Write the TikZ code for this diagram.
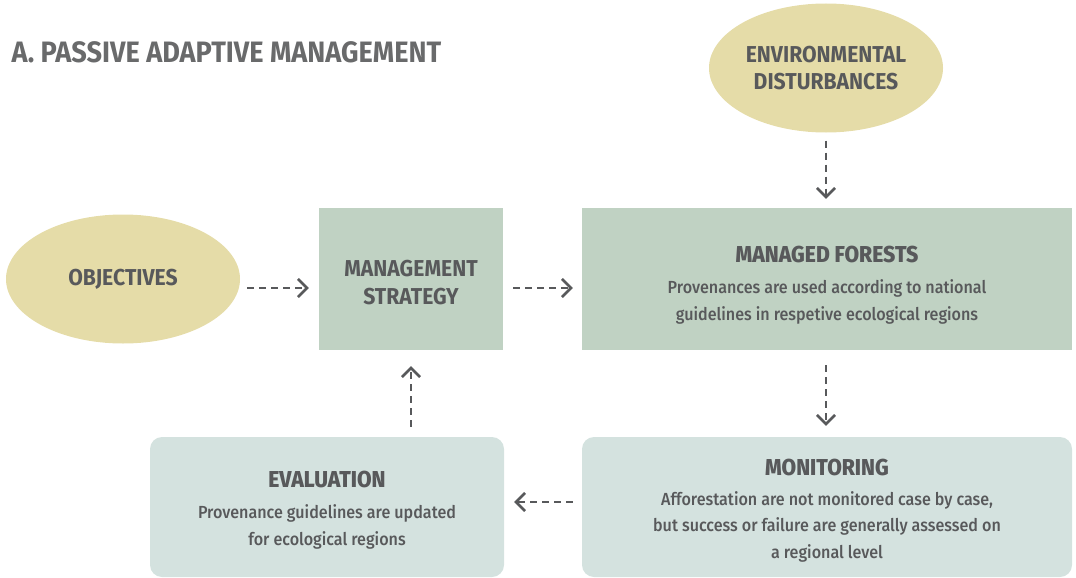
\documentclass[tikz,border=0pt]{standalone}
\usepackage{fontspec}
\setmainfont{Fira Sans}[FakeStretch=0.92]
\newfontfamily\mediumface{Fira Sans Medium}[FakeStretch=0.92]
\usetikzlibrary{shapes.geometric,arrows.meta}

\definecolor{textgrey}{HTML}{58595B}
\definecolor{sand}{HTML}{E5DCA8}
\definecolor{sage}{HTML}{C0D2C3}
\definecolor{mist}{HTML}{D4E2DF}

\newcommand{\headfont}{\fontsize{23}{28}\selectfont\bfseries}
\newcommand{\bodyfont}{\mediumface\fontsize{17.5}{26.5}\selectfont}

\begin{document}
\begin{tikzpicture}[
		x=1pt,y=-1pt,
		every node/.style={
			text=textgrey,
			align=center,
		},
		goal/.style={
			ellipse,
			fill=sand,
			inner sep=0pt,
			minimum width=234pt,
			minimum height=129pt,
			font=\fontsize{23}{27}\selectfont\bfseries
		},
		box/.style={
			rectangle,
			fill=sage,
			inner sep=0pt,
			font=\bodyfont
		},
		roundbox/.style={
			rectangle,
			rounded corners=12pt,
			fill=mist,
			inner sep=0pt,
			font=\bodyfont
		},
		flow/.style={
			draw=textgrey,
			line width=2.6pt,
			dash pattern=on 7pt off 5pt,
			-{Straight Barb[length=9pt,width=18pt,line width=2.6pt]}
		},
		>=latex
		]
		\useasboundingbox (0,0) rectangle (1076,578);
		% title
		\node[anchor=base west,font=\fontsize{29.5}{32}\selectfont\bfseries,text=textgrey!90] (title) at (8,63) {A. PASSIVE ADAPTIVE MANAGEMENT};
		% ellipses
		\node[goal] (env) at (826,68) {ENVIRONMENTAL\\DISTURBANCES};
		\node[goal] (obj) at (123,279) {OBJECTIVES};
		% boxes
		\node[box,minimum width=184pt,minimum height=142pt,font=\headfont] (strategy) at (411,279) {\rule{0pt}{24pt}MANAGEMENT\\STRATEGY};
		\node[box,minimum width=490pt,minimum height=142pt] (forests) at (827,279)
			{{\headfont\rule{0pt}{28pt}MANAGED FORESTS}\\[5pt]
			Provenances are used according to national\\guidelines in respetive ecological regions};
		\node[roundbox,minimum width=490pt,minimum height=140pt] (monitor) at (827,507)
			{{\headfont\rule{0pt}{24pt}MONITORING}\\[3pt]
			Afforestation are not monitored case by case,\\but success or failure are generally assessed on\\a regional level};
		\node[roundbox,minimum width=354pt,minimum height=140pt] (eval) at (327,507)
			{{\headfont\rule{0pt}{22pt}EVALUATION}\\[5pt]
			Provenance guidelines are updated\\for ecological regions};
		% connectors
		\draw[flow,shorten <=7pt,shorten >=10pt] ([yshift=-9pt]obj.east) -- ([yshift=-9pt]strategy.west);
		\draw[flow,shorten <=10pt,shorten >=9pt] ([yshift=-9pt]strategy.east) -- ([yshift=-9pt]forests.west);
		\draw[flow,shorten <=8pt,shorten >=9pt] (env.south) -- (env.south |- forests.north);
		\draw[flow,shorten <=15pt,shorten >=11pt] (forests.south -| env.south) -- (monitor.north -| env.south);
		\draw[flow,shorten <=9pt,shorten >=10pt] ([yshift=5pt]monitor.west) -- ([yshift=5pt]eval.east);
		\draw[flow,shorten <=10pt,shorten >=16pt] (eval.north -| strategy.south) -- (strategy.south);
\end{tikzpicture}
\end{document}
